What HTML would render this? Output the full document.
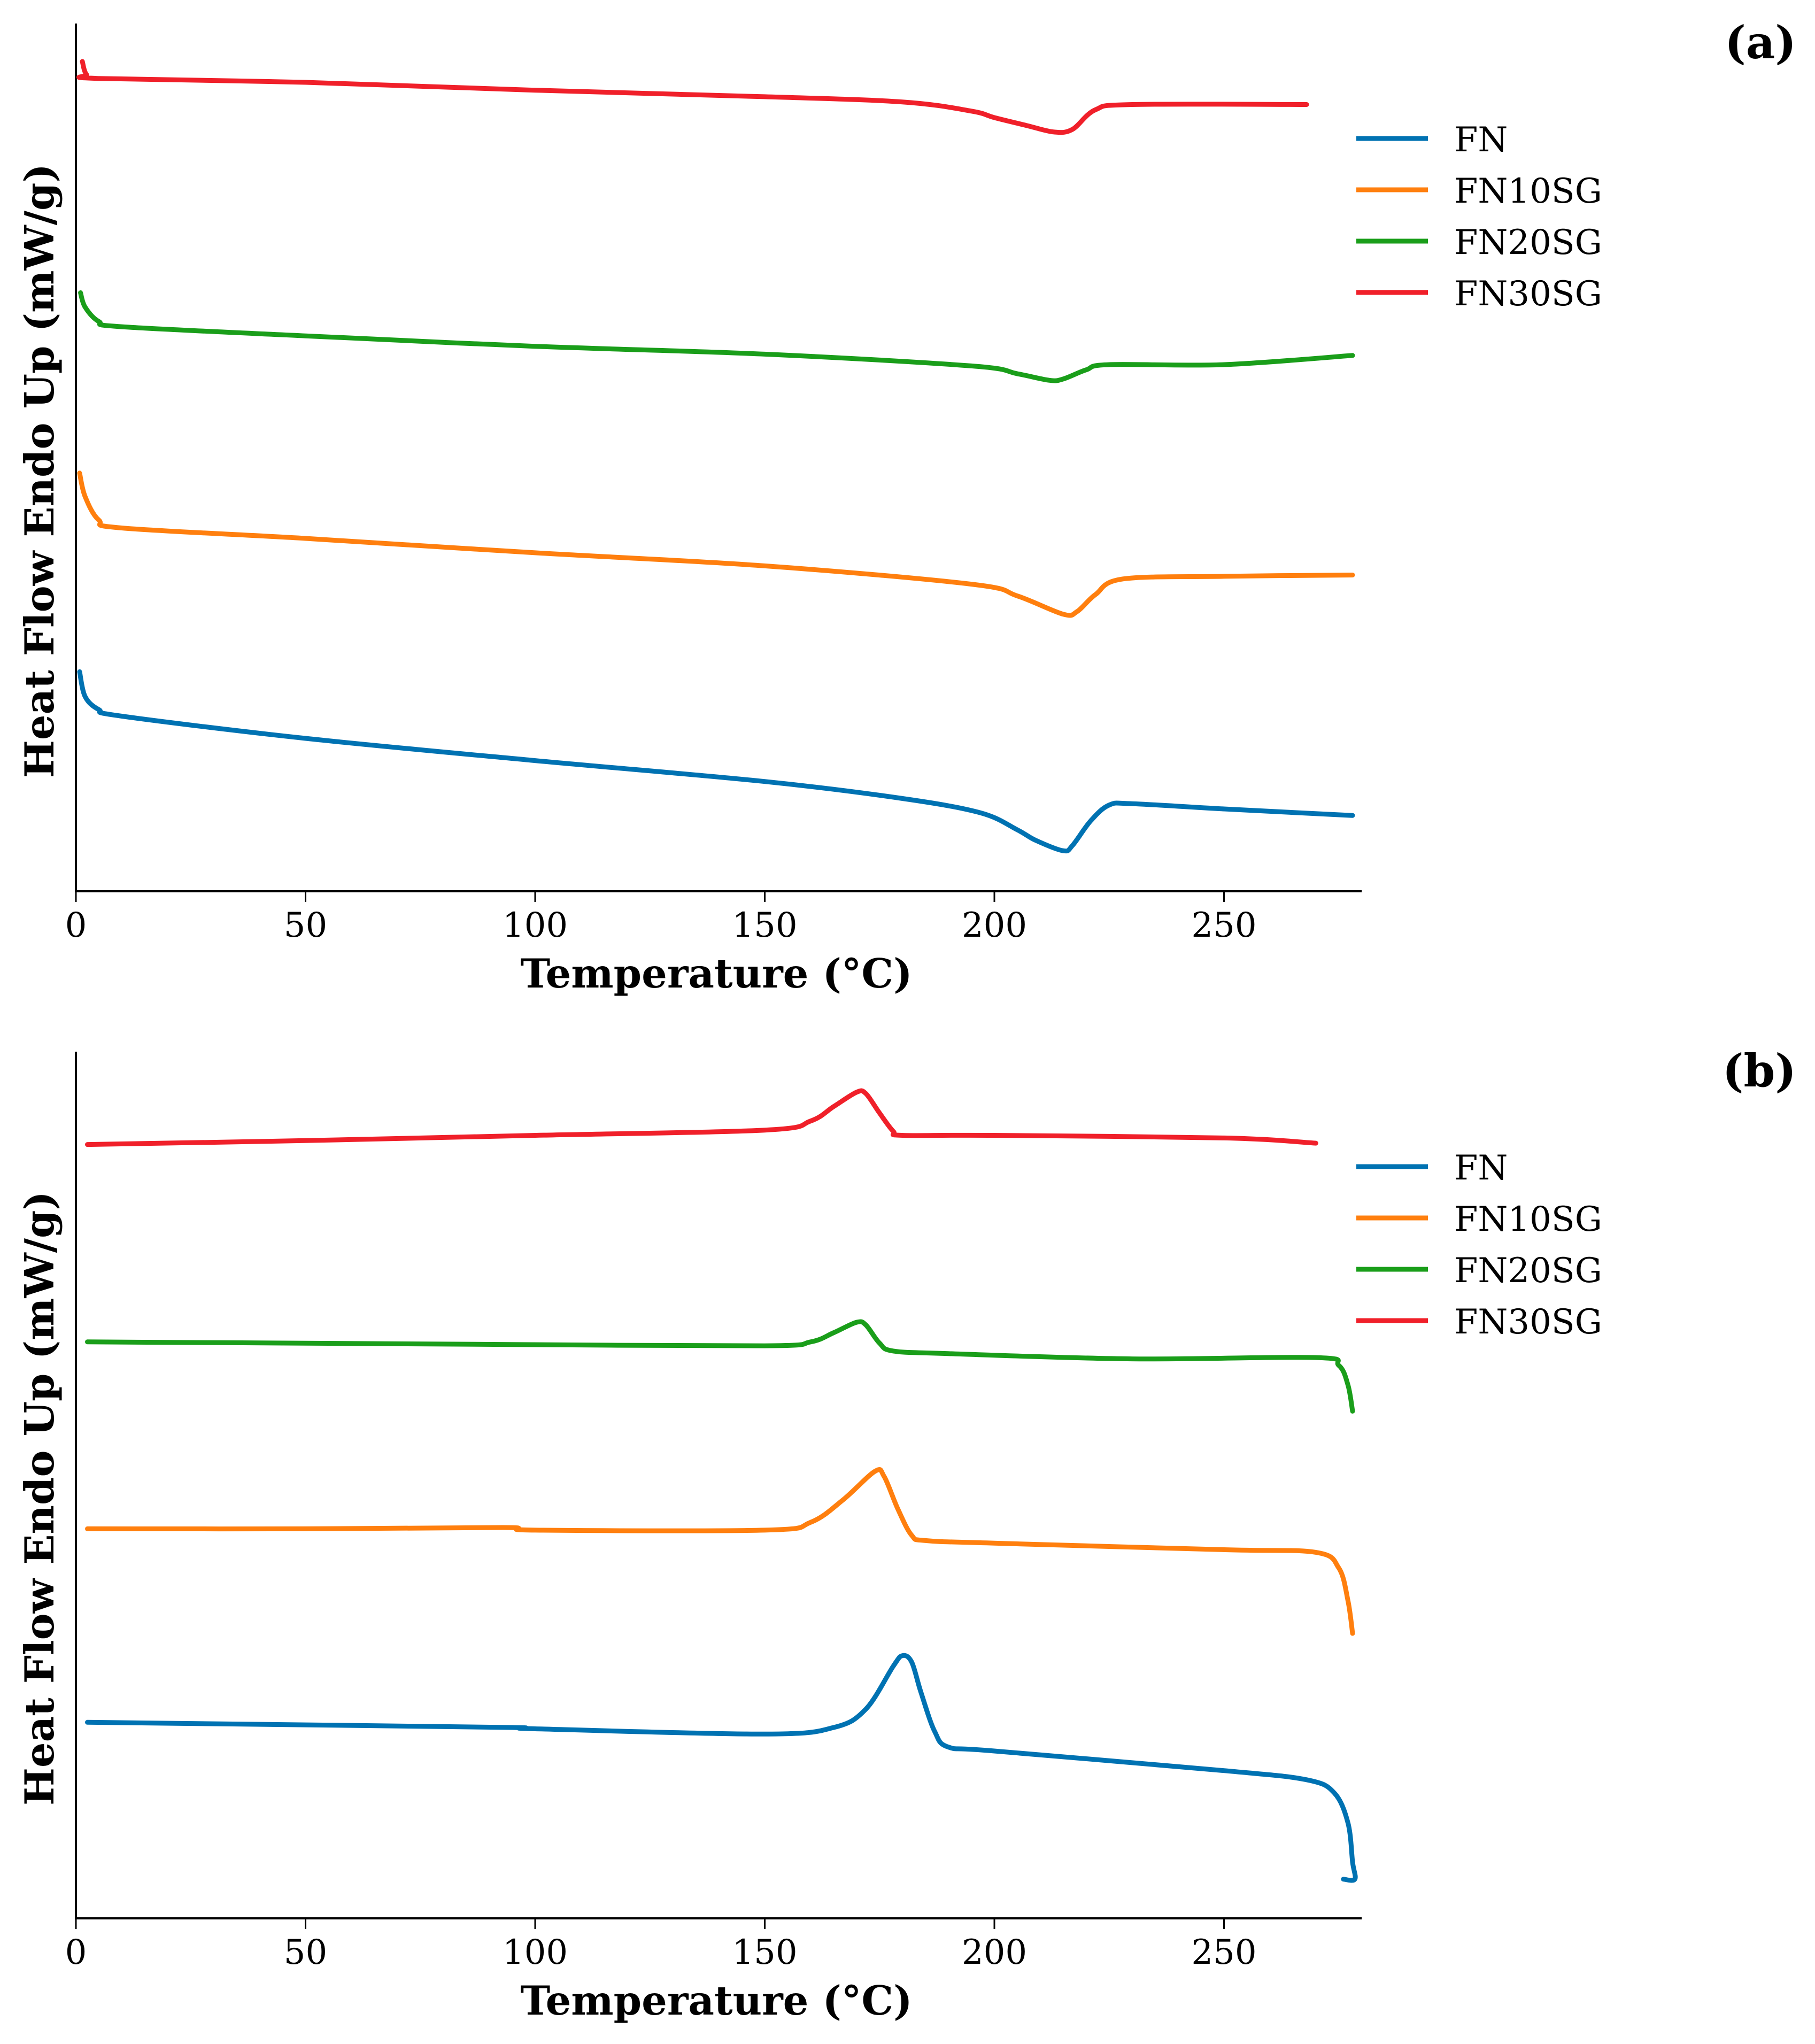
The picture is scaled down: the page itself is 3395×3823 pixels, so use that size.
<!DOCTYPE html>
<html><head><meta charset="utf-8"><style>
html,body{margin:0;padding:0;background:#fff;}
svg{display:block;}
text{font-family:"DejaVu Serif","Liberation Serif",serif;fill:#000;}
</style></head><body>
<svg id="fig" width="3395" height="3823" viewBox="0 0 3395 3823" xmlns="http://www.w3.org/2000/svg"></svg>
<script>
// Panel (a) data: temperature (°C) and heat flow (arbitrary offset units)
const aRedT=[1.4,2.3,4.8,50,100,150,180,195,200,207,213,217,222,230,268];
const aRedV=[635,625,622,619,613,608,604,597,592,586,581,583,598,602,602];
const aGreenT=[1,2,5,10,50,100,150,195,205,212,215,220,225,250,278];
const aGreenV=[458,447,436,432,425,417,411,402,396,391,392,399,403,403,410];
const aOrangeT=[0.8,2,5,10,50,100,150,195,205,215,218,222,228,250,278];
const aOrangeV=[320,302,284,278,270,259,249,235,226,212,214,227,239,241,242];
const aBlueT=[0.8,2,5,10,50,100,150,180,197,205,209,215,217,221,225,230,250,278];
const aBlueV=[168,149,139,134,117,100,84,71,60,47,39,31,35,54,66,67,63,58];
// Panel (b) data
const bRedT=[2.5,50,100,150,160,165,170,172,175,178,180,200,250,270];
const bRedV=[592,595,599,603,610,621,632,631,616,602,599,599,597,593];
const bGreenT=[2.5,50,95,150,160,165,170,172,175,178,190,230,270,275,277,278];
const bGreenV=[441,440,439,438,441,448,456,454,440,434,432,428,429,423,408,388];
const bOrangeT=[2.5,50,93,100,150,160,167,174,176,179,182,185,200,250,270,275,277,278];
const bOrangeV=[298,298,299,297,297,303,320,342,338,313,293,289,287,282,280,268,243,218];
const bBlueT=[2.5,50,95,100,150,165,172,178,180,182,184,187,190,200,250,268,274,277,278,278.5,276];
const bBlueV=[150,148,146,145,141,146,160,193,201,196,173,143,131,128,113,106,96,73,43,30,30];
const xTicks=[0,50,100,150,200,250];
const seriesNames=["FN","FN10SG","FN20SG","FN30SG"];
const colors=["#0072b2","#ff7f0e","#1a9e1a","#f0202a"];

const NS="http://www.w3.org/2000/svg";
const svg=document.getElementById('fig');
function mk(tag,attrs,parent){const e=document.createElementNS(NS,tag);for(const k in attrs)e.setAttribute(k,attrs[k]);(parent||svg).appendChild(e);return e;}
function smooth(pts){
  let d='M'+pts[0][0].toFixed(1)+' '+pts[0][1].toFixed(1);
  for(let i=0;i<pts.length-1;i++){
    const p0=pts[Math.max(0,i-1)],p1=pts[i],p2=pts[i+1],p3=pts[Math.min(pts.length-1,i+2)];
    const c1=[p1[0]+(p2[0]-p0[0])/6,p1[1]+(p2[1]-p0[1])/6];
    const c2=[p2[0]-(p3[0]-p1[0])/6,p2[1]-(p3[1]-p1[1])/6];
    d+=` C${c1[0].toFixed(1)} ${c1[1].toFixed(1)} ${c2[0].toFixed(1)} ${c2[1].toFixed(1)} ${p2[0].toFixed(1)} ${p2[1].toFixed(1)}`;
  }
  return d;
}

function panel(key,top,bottom,yMax,series,label){
  const x0=142,pxDeg=8.59;
  const X=t=>x0+t*pxDeg;
  const Y=v=>bottom-(v/yMax)*(bottom-top);
  const g=mk('g',{});
  
  
  const ya=mk('line',{x1:x0,y1:top,x2:x0,y2:bottom,stroke:'#000','stroke-width':4},g);
  
  
  const xa=mk('line',{x1:x0-2,y1:bottom,x2:X(280),y2:bottom,stroke:'#000','stroke-width':4},g);
  
  
  xTicks.forEach(t=>{
    const tk=mk('line',{x1:X(t),y1:bottom,x2:X(t),y2:bottom+20,stroke:'#000','stroke-width':3},g);
    
    
    const tl=mk('text',{x:X(t),y:bottom+85,'font-size':64,'text-anchor':'middle'},g);
    tl.textContent=t;
    
    
  });
  const xl=mk('text',{x:1340,y:bottom+180,'font-size':75,'font-weight':'bold','text-anchor':'middle'},g);
  xl.textContent='Temperature (°C)';
  
  
  const cy=(top+bottom)/2+25;
  const yl=mk('text',{x:0,y:0,'font-size':75,'font-weight':'bold','text-anchor':'middle',transform:`translate(100,${cy}) rotate(-90)`},g);
  yl.textContent='Heat Flow Endo Up (mW/g)';
  
  
  series.forEach((s,i)=>{
    const pts=s.T.map((t,j)=>[X(t),Y(s.V[j])]);
    const p=mk('path',{d:smooth(pts),fill:'none',stroke:colors[i],'stroke-width':9,'stroke-linejoin':'round','stroke-linecap':'round'},g);
    
    
  });
  const legTop=top+215;
  seriesNames.forEach((n,i)=>{
    const ly=legTop+i*96;
    const ll=mk('line',{x1:2537,y1:ly,x2:2671,y2:ly,stroke:colors[i],'stroke-width':9},g);
    
    
    const lt=mk('text',{x:2720,y:ly+24,'font-size':64},g);
    lt.textContent=n;
    
    
  });
  const pl=mk('text',{x:3360,y:top+65,'font-size':84,'font-weight':'bold','text-anchor':'end','font-family':'Liberation Serif, serif'},g);
  pl.textContent=label;
  
  
}
panel('a',44,1667,664,[
  {T:aBlueT,V:aBlueV},{T:aOrangeT,V:aOrangeV},{T:aGreenT,V:aGreenV},{T:aRedT,V:aRedV}],'(a)');
panel('b',1967,3588,663,[
  {T:bBlueT,V:bBlueV},{T:bOrangeT,V:bOrangeV},{T:bGreenT,V:bGreenV},{T:bRedT,V:bRedV}],'(b)');
</script>
</body></html>
